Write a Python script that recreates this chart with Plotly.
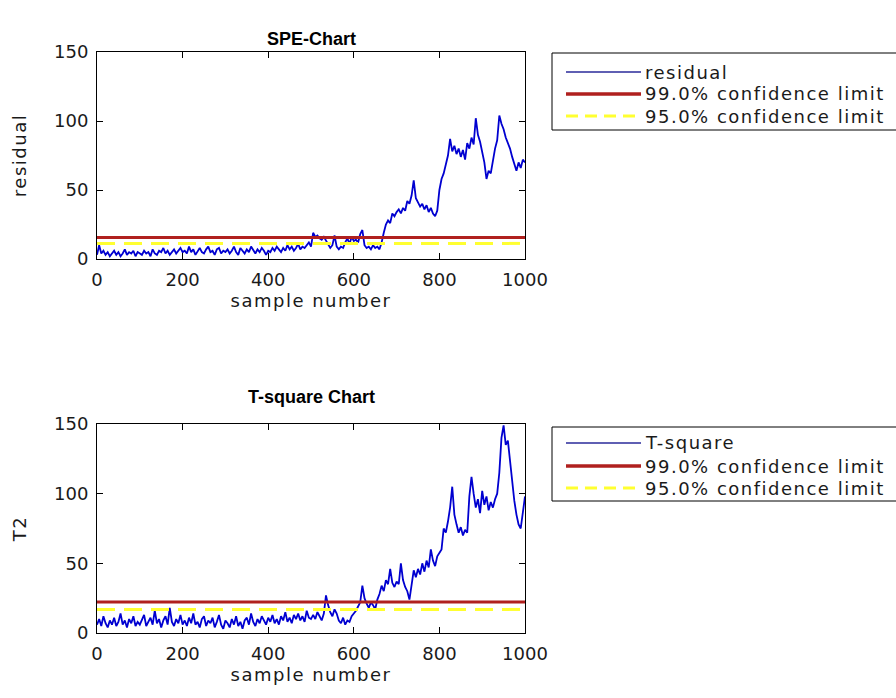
import plotly.graph_objects as go

W, H = 896, 698

# sample index every 5 samples
samples = list(range(0, 1001, 5))

spe_values = [
    3, 10, 4, 6, 3, 5, 2, 4, 6, 3, 5, 2, 4, 7, 3, 5, 4, 6, 2, 5, 4,
    3, 6, 4, 5, 2, 7, 4, 3, 6, 5, 8, 4, 6, 3, 5, 7, 4, 6, 8, 5,
    6, 4, 9, 5, 7, 3, 6, 8, 5, 4, 7, 9, 5, 6, 3, 7, 8, 4, 6, 5,
    7, 4, 6, 9, 5, 3, 8, 6, 4, 7, 5, 9, 6, 4, 7, 5, 8, 6, 3, 6,
    5, 8, 6, 9, 7, 5, 8, 6, 10, 7, 9, 6, 8, 11, 7, 9, 8, 10, 12, 9,
    19, 16, 17, 15, 14, 16, 13, 11, 8, 10, 17, 9, 7, 9, 8, 12, 15, 11, 16, 13,
    14, 12, 18, 21, 10, 8, 9, 7, 10, 8, 9, 7, 12, 19, 25, 28, 26, 33, 31, 34,
    36, 33, 37, 35, 42, 40, 46, 57, 44, 41, 38, 40, 36, 39, 34, 37, 33, 31, 35, 50,
    58, 62, 68, 75, 87, 78, 82, 76, 80, 74, 79, 72, 84, 80, 88, 83, 102, 90, 85, 78,
    70, 58, 64, 62, 72, 80, 86, 104, 98, 94, 88, 84, 80, 74, 68, 64, 70, 66, 72, 70,
]

t2_values = [
    6, 10, 5, 12, 7, 4, 9, 6, 11, 5, 8, 14, 6, 9, 4, 10, 7, 12, 5, 8, 6,
    9, 13, 5, 8, 11, 6, 16, 7, 10, 4, 9, 12, 6, 18, 8, 5, 10, 7, 13, 6,
    9, 5, 11, 7, 14, 6, 8, 4, 10, 12, 5, 9, 7, 11, 4, 8, 13, 6, 3, 9,
    7, 4, 10, 6, 12, 5, 8, 3, 9, 11, 6, 14, 8, 5, 10, 7, 12, 9, 6, 11,
    8, 13, 7, 10, 6, 12, 9, 15, 8, 11, 7, 13, 10, 14, 9, 12, 8, 16, 11, 10,
    13, 10, 15, 12, 9, 14, 27, 20, 15, 12, 17, 14, 9, 7, 11, 6, 9, 8, 12, 14,
    16, 19, 22, 34, 25, 21, 18, 22, 20, 17, 24, 28, 34, 30, 38, 35, 46, 36, 33, 37,
    35, 50, 38, 33, 30, 24, 33, 45, 40, 46, 42, 50, 44, 52, 47, 60, 52, 48, 55, 58,
    60, 75, 72, 80, 90, 105, 85, 78, 72, 76, 70, 74, 72, 98, 112, 100, 90, 96, 86, 102,
    92, 98, 88, 94, 90, 96, 100, 115, 140, 149, 135, 138, 122, 108, 95, 85, 78, 75, 88, 98,
]

spe_limit99 = 15.6
spe_limit95 = 11.3
t2_limit99 = 22.2
t2_limit95 = 16.9

x_range = [0, 1000]
y_range = [0, 150]
x_ticks = [0, 200, 400, 600, 800, 1000]
y_ticks = [0, 50, 100, 150]

top_legend_labels = ["residual", "99.0% confidence limit", "95.0% confidence limit"]
bot_legend_labels = ["T-square", "99.0% confidence limit", "95.0% confidence limit"]

BLUE = "#0000D0"
LEG_BLUE = "#2a2a9a"
RED = "#B0201E"
YELLOW = "#FFFF30"
FONT = "DejaVu Sans, Verdana, sans-serif"
TFONT = "Liberation Sans Narrow, Arial Narrow, Liberation Sans, sans-serif"
TXT = "#1a1a1a"
FS = 18


def spaced(s, ls=1.5):
    return f'<span style="letter-spacing:{ls}px">{s}</span>'


fig = go.Figure()

# top chart
fig.add_trace(go.Scatter(x=samples, y=spe_values, mode="lines", name=top_legend_labels[0],
                         line=dict(color=BLUE, width=1.8), xaxis="x", yaxis="y"))
fig.add_trace(go.Scatter(x=x_range, y=[spe_limit99, spe_limit99], mode="lines",
                         name=top_legend_labels[1], line=dict(color=RED, width=3),
                         xaxis="x", yaxis="y"))
fig.add_trace(go.Scatter(x=x_range, y=[spe_limit95, spe_limit95], mode="lines",
                         name=top_legend_labels[2],
                         line=dict(color=YELLOW, width=3, dash="18px,9px"),
                         xaxis="x", yaxis="y"))

# bottom chart
fig.add_trace(go.Scatter(x=samples, y=t2_values, mode="lines", name=bot_legend_labels[0],
                         line=dict(color=BLUE, width=1.8), xaxis="x2", yaxis="y2"))
fig.add_trace(go.Scatter(x=x_range, y=[t2_limit99, t2_limit99], mode="lines",
                         name=bot_legend_labels[1], line=dict(color=RED, width=3),
                         xaxis="x2", yaxis="y2"))
fig.add_trace(go.Scatter(x=x_range, y=[t2_limit95, t2_limit95], mode="lines",
                         name=bot_legend_labels[2],
                         line=dict(color=YELLOW, width=3, dash="18px,9px"),
                         xaxis="x2", yaxis="y2"))

xdom = [97 / W, 525 / W]
ydom_top = [1 - 259 / H, 1 - 52 / H]
ydom_bot = [1 - 633 / H, 1 - 424 / H]

axis_common = dict(
    showline=True, linecolor="black", linewidth=1, mirror="ticks",
    ticks="inside", ticklen=6, tickcolor="black", showgrid=False, zeroline=False,
    tickfont=dict(family=FONT, size=FS, color=TXT),
)

annotations = [
    dict(text="<b>SPE-Chart</b>", x=(xdom[0] + xdom[1]) / 2, y=1 - 27 / H,
         xref="paper", yref="paper", showarrow=False,
         font=dict(family=TFONT, size=18, color="black")),
    dict(text="<b>T-square Chart</b>", x=(xdom[0] + xdom[1]) / 2, y=1 - 397 / H,
         xref="paper", yref="paper", showarrow=False,
         font=dict(family=TFONT, size=18, color="black")),
]
shapes = []

# hand-drawn legend boxes (MATLAB style, clipped at the right edge)
def add_legend(labels, top_px, rows_px, bottom_px):
    shapes.append(dict(type="rect", xref="paper", yref="paper",
                       x0=552 / W, x1=1.05, y0=1 - bottom_px / H, y1=1 - top_px / H,
                       line=dict(color="black", width=1), fillcolor="white", layer="above"))
    styles = [dict(color=LEG_BLUE, width=1.5), dict(color=RED, width=3.5),
              dict(color=YELLOW, width=3, dash="12px,7px")]
    for lab, ry, st in zip(labels, rows_px, styles):
        shapes.append(dict(type="line", xref="paper", yref="paper",
                           x0=566 / W, x1=641 / W, y0=1 - ry / H, y1=1 - ry / H,
                           line=st, layer="above"))
        annotations.append(dict(text=spaced(lab), x=643 / W, y=1 - ry / H,
                                xref="paper", yref="paper", xanchor="left", yanchor="middle",
                                showarrow=False, font=dict(family=FONT, size=FS, color=TXT)))


add_legend(top_legend_labels, 53, [72, 94, 116], 130)
add_legend(bot_legend_labels, 427, [443, 466, 488], 501)

fig.update_layout(
    width=W, height=H,
    margin=dict(l=0, r=0, t=0, b=0, autoexpand=False),
    paper_bgcolor="white", plot_bgcolor="white",
    font=dict(family=FONT, size=FS, color=TXT),
    showlegend=False,
    xaxis=dict(domain=xdom, range=x_range, tickvals=x_ticks, anchor="y",
               ticklabelstandoff=4,
               title=dict(text=spaced("sample number"), standoff=2,
                          font=dict(size=FS)), **axis_common),
    yaxis=dict(domain=ydom_top, range=y_range, tickvals=y_ticks, anchor="x",
               ticklabelstandoff=4,
               title=dict(text=spaced("residual"), standoff=22,
                          font=dict(size=FS)), **axis_common),
    xaxis2=dict(domain=xdom, range=x_range, tickvals=x_ticks, anchor="y2",
                ticklabelstandoff=4,
                title=dict(text=spaced("sample number"), standoff=2,
                           font=dict(size=FS)), **axis_common),
    yaxis2=dict(domain=ydom_bot, range=y_range, tickvals=y_ticks, anchor="x2",
                ticklabelstandoff=4,
                title=dict(text=spaced("T2"), standoff=22,
                           font=dict(size=FS)), **axis_common),
    annotations=annotations,
    shapes=shapes,
)

fig.write_html("out.html")
